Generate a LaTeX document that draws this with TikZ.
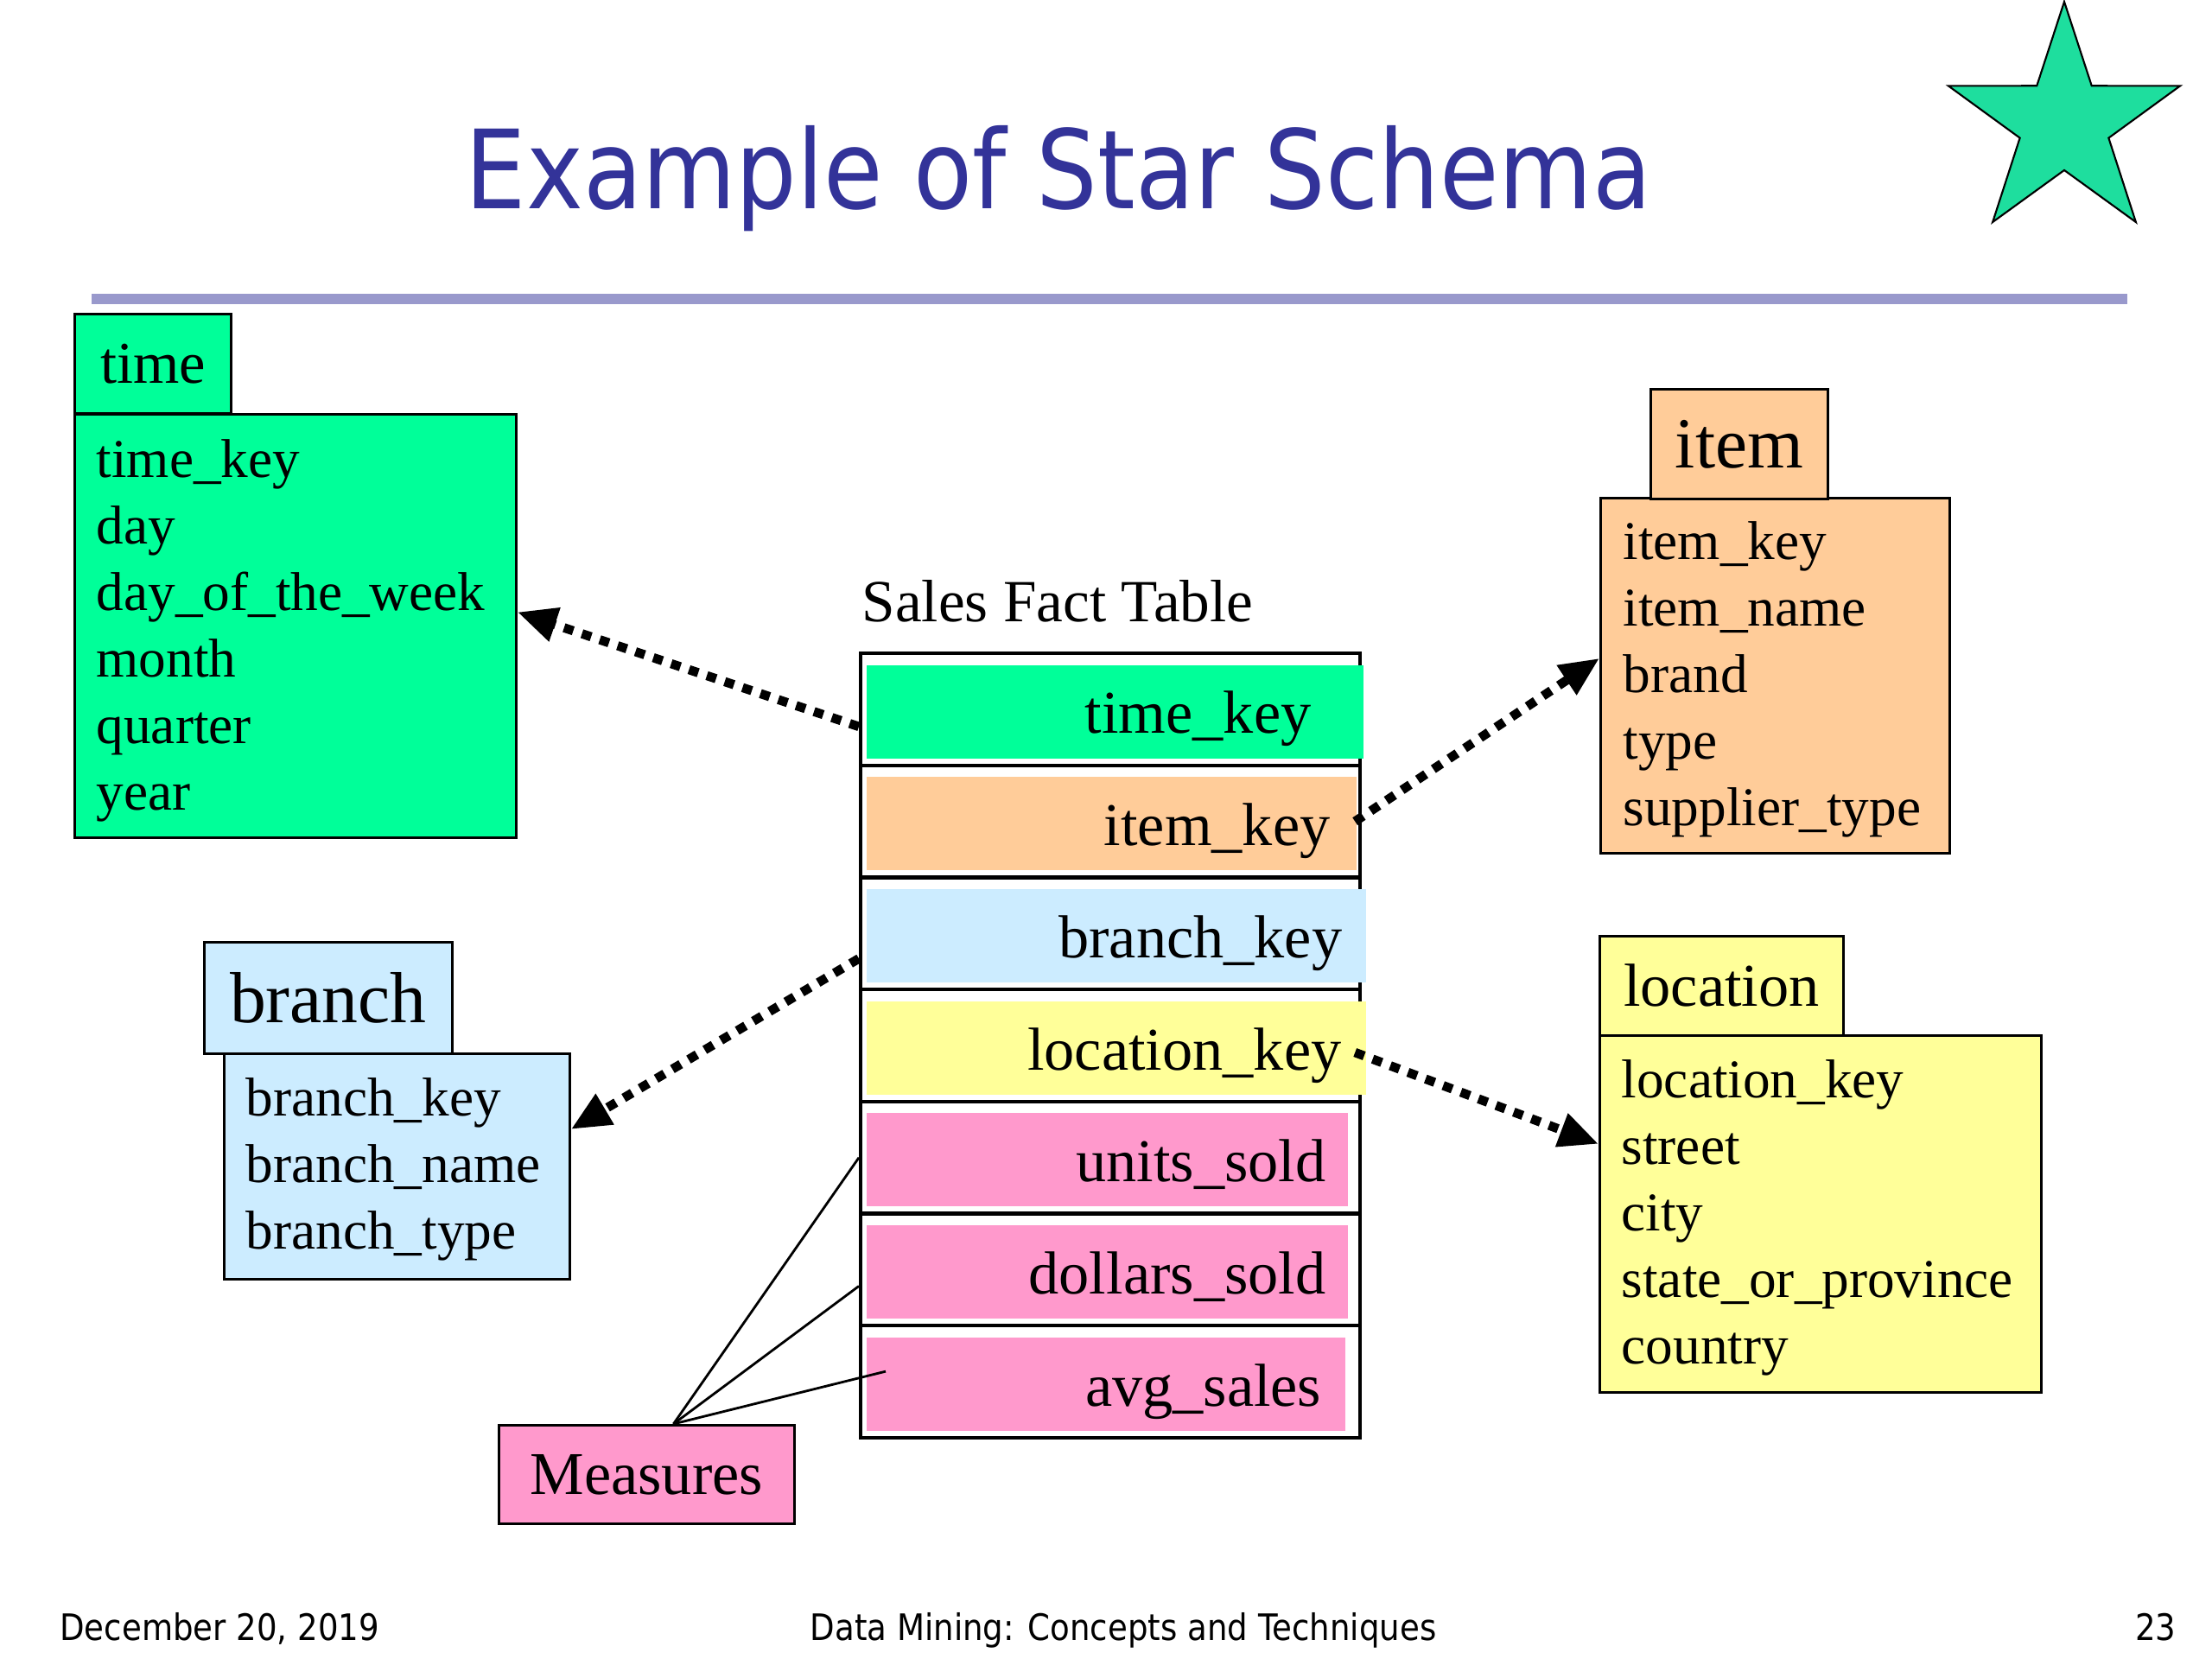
\documentclass[tikz,border=0pt]{standalone}
\usepackage{fontspec}
\setmainfont{Liberation Serif}
\newfontfamily\slidefont[FakeStretch=0.88]{DejaVu Sans}
\usepackage{tikz}
\usetikzlibrary{arrows.meta}
\usepackage{xcolor}
\definecolor{tgreen}{RGB}{0,255,153}
\definecolor{ipeach}{RGB}{255,204,153}
\definecolor{bblue}{RGB}{204,236,255}
\definecolor{lyellow}{RGB}{255,255,153}
\definecolor{mpink}{RGB}{255,153,204}
\definecolor{titleblue}{RGB}{51,51,153}
\definecolor{rulec}{RGB}{153,153,204}
\definecolor{starc}{RGB}{30,222,158}

\tikzset{
  tblhead/.style={draw, line width=0.8pt, anchor=north west, inner sep=0pt},
  tblbody/.style={draw, line width=0.8pt, anchor=north west, inner sep=0pt},
  field/.style={anchor=base west, inner sep=0pt, font=\fontsize{18}{22}\selectfont},
  factrow/.style={draw, line width=1.2pt, anchor=north west, inner sep=0pt,
    minimum width=5.78cm, minimum height=1.297cm},
  keyfill/.style={anchor=north west, inner sep=0pt, minimum height=1.08cm},
  keytext/.style={anchor=base east, inner sep=0pt, font=\fontsize{20}{24}\selectfont},
  fkarrow/.style={line width=3pt, dash pattern=on 3.2pt off 3pt,
    -{Triangle[length=13pt,width=11pt]}},
  measline/.style={line width=0.8pt}
}

\begin{document}
\begin{tikzpicture}
\useasboundingbox (0,0) rectangle (25.6,19.2);

% title, rule and star
\node (title) at (12.25,16.78) [anchor=base, text=titleblue,
  font=\slidefont\fontsize{36}{40}\selectfont] {Example of Star Schema};
\draw[rulec, line width=3.2pt] (1.06,15.74) -- (24.62,15.74);
\draw[fill=starc, line width=0.6pt, shift={(23.89,17.77)}] (90:1.41)
  \foreach \a in {126,198,270,342} {-- (\a:0.54) -- ({\a+36}:1.41)} -- (54:0.54) -- cycle;

% time dimension
\node[tblbody, fill=tgreen, minimum width=5.11cm, minimum height=4.90cm] (tbody) at (0.85,14.42) {};
\node[tblhead, fill=tgreen, minimum width=1.81cm, minimum height=1.15cm,
  font=\fontsize{19.5}{23}\selectfont] (thead) at (0.85,15.58) {time};
\foreach \f [count=\k from 0] in {time\_key, day, day\_of\_the\_week, month, quarter, year} {
  \node[field] (t\k) at (1.11,{13.67-0.77*\k}) {\f};
}

% item dimension
\node[tblbody, fill=ipeach, minimum width=4.04cm, minimum height=4.11cm] (ibody) at (18.51,13.45) {};
\node[tblhead, fill=ipeach, minimum width=2.05cm, minimum height=1.27cm,
  font=\fontsize{23.7}{28}\selectfont] (ihead) at (19.09,14.71) {item};
\foreach \f [count=\k from 0] in {item\_key, item\_name, brand, type, supplier\_type} {
  \node[field] (i\k) at (18.78,{12.72-0.77*\k}) {\f};
}

% branch dimension
\node[tblbody, fill=bblue, minimum width=4.00cm, minimum height=2.61cm] (bbody) at (2.58,7.02) {};
\node[tblhead, fill=bblue, minimum width=2.87cm, minimum height=1.29cm,
  font=\fontsize{23.8}{28}\selectfont] (bhead) at (2.35,8.31) {branch};
\foreach \f [count=\k from 0] in {branch\_key, branch\_name, branch\_type} {
  \node[field] (b\k) at (2.84,{6.28-0.77*\k}) {\f};
}

% location dimension
\node[tblbody, fill=lyellow, minimum width=5.11cm, minimum height=4.13cm] (lbody) at (18.50,7.23) {};
\node[tblhead, fill=lyellow, minimum width=2.82cm, minimum height=1.15cm,
  font=\fontsize{20}{24}\selectfont] (lhead) at (18.50,8.38) {location};
\foreach \f [count=\k from 0] in {location\_key, street, city, state\_or\_province, country} {
  \node[field] (l\k) at (18.76,{6.49-0.77*\k}) {\f};
}

% fact table
\node (facttitle) at (12.24,12.00) [anchor=base, font=\fontsize{19.7}{24}\selectfont] {Sales Fact Table};
\foreach \nm/\lbl/\c/\fw/\tx [count=\k from 0] in {
    tkey/time\_key/tgreen/5.75/15.18,
    ikey/item\_key/ipeach/5.67/15.40,
    bkey/branch\_key/bblue/5.78/15.54,
    lkey/location\_key/lyellow/5.78/15.53,
    units/units\_sold/mpink/5.57/15.35,
    dollars/dollars\_sold/mpink/5.57/15.35,
    avg/avg\_sales/mpink/5.54/15.30} {
  \node[factrow] (\nm) at (9.94,{11.66-1.297*\k}) {};
  \node[keyfill, fill=\c, minimum width=\fw cm] (\nm f) at (10.02,{11.51-1.297*\k}) {};
  \node[keytext] (\nm t) at (\tx,{10.71-1.297*\k}) {\lbl};
}

% measures
\node[tblhead, fill=mpink, minimum width=3.42cm, minimum height=1.14cm,
  font=\fontsize{20}{24}\selectfont] (meas) at (5.76,2.72) {Measures};
\draw[measline] ([xshift=0.31cm]meas.north) -- (units.west);
\draw[measline] ([xshift=0.31cm]meas.north) -- ([yshift=-0.19cm]dollars.west);
\draw[measline] ([xshift=0.31cm]meas.north) -- ([xshift=0.31cm,yshift=0.12cm]avg.west);

% foreign keys
\draw[fkarrow] ([yshift=-0.2cm]tkey.west) -- ([yshift=0.16cm]tbody.east);
\draw[fkarrow] ([xshift=-0.08cm]ikey.east) -- ([yshift=0.2cm]ibody.west);
\draw[fkarrow] ([yshift=-0.29cm]bkey.west) -- ([yshift=0.43cm]bbody.east);
\draw[fkarrow] ([xshift=-0.08cm,yshift=-0.08cm]lkey.east) -- ([yshift=0.81cm]lbody.west);

% footer
\node (date) at (0.57,0.21) [anchor=base west, font=\slidefont\fontsize{12}{14}\selectfont] {December 20, 2019};
\node (course) at (13.00,0.21) [anchor=base, font=\slidefont\fontsize{12}{14}\selectfont] {Data Mining: Concepts and Techniques};
\node (page) at (25.31,0.21) [anchor=base east, font=\slidefont\fontsize{12}{14}\selectfont] {23};
\end{tikzpicture}
\end{document}
